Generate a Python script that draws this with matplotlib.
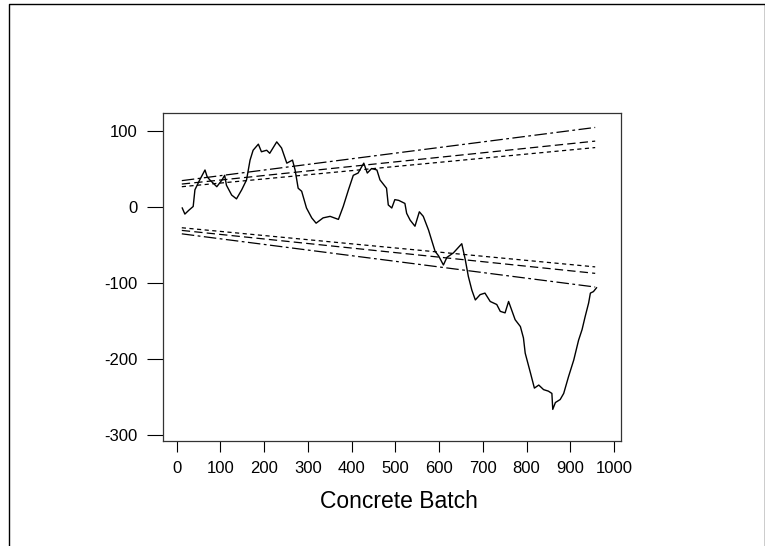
import matplotlib
matplotlib.use("Agg")
import matplotlib.pyplot as plt
from matplotlib.lines import Line2D

plt.rcParams['font.family'] = ['Liberation Sans', 'DejaVu Sans']
plt.rcParams['lines.scale_dashes'] = False
plt.rcParams['axes.unicode_minus'] = False

# cusum path
batch = [13, 19, 28, 38, 42, 53, 65, 70, 76, 92, 104, 110, 114, 126, 137, 149, 160, 168,
         175, 187, 194, 206, 213, 229, 240, 252, 265, 271, 278, 286, 297, 309, 319, 335,
         351, 370, 381, 393, 404, 415, 428, 436, 446, 458, 465, 480, 484, 492, 499, 508,
         515, 522, 526, 534, 545, 555, 564, 576, 584, 591, 599, 610, 618, 633, 652, 660,
         667, 675, 683, 694, 705, 717, 732, 740, 751, 759, 774, 786, 793, 797, 809, 818,
         828, 839, 850, 858, 860, 866, 877, 885, 896, 908, 919, 927, 934, 942, 946, 953, 960]
cusum = [-1, -9, -4, 1, 23, 36, 49, 40, 36, 27, 36, 42, 29, 16, 11, 23, 36, 62,
         75, 83, 73, 75, 71, 86, 78, 58, 62, 49, 25, 21, -1, -14, -21, -14,
         -12, -16, 1, 23, 42, 45, 58, 45, 51, 49, 36, 25, 3, -1, 10, 9,
         7, 5, -8, -17, -25, -6, -12, -30, -45, -58, -64, -76, -66, -60, -48, -69,
         -91, -109, -122, -115, -113, -124, -128, -137, -139, -124, -148, -157, -172, -192, -218, -238,
         -234, -240, -242, -245, -266, -257, -253, -245, -223, -201, -175, -161, -144, -126, -113, -111, -106]

# boundary lines (start/end)
bound_x = [12, 957]
outer = [35, 105]
middle = [30.5, 87]
inner = [27, 78.5]

xticks = list(range(0, 1001, 100))
yticks = [-300, -200, -100, 0, 100]

fig = plt.figure(figsize=(7.65, 5.46), dpi=100)
ax = fig.add_axes([163 / 765, 1 - 441.3 / 546, (621 - 163) / 765, (441.3 - 113) / 546])

ax.plot(batch, cusum, color='black', lw=1.0)

styles = [(outer, (9, 2.5, 2, 2.5)), (middle, (6, 3)), (inner, (3, 2.5))]
for vals, dash in styles:
    ax.plot(bound_x, vals, color='black', lw=0.9, dashes=dash)
    ax.plot(bound_x, [-v for v in vals], color='black', lw=0.9, dashes=dash)

ax.set_xlim(-31, 1016)
ax.set_ylim(-308, 124)
ax.set_xticks(xticks)
ax.set_yticks(yticks)
ax.tick_params(axis='x', length=8, width=0.8, pad=6, labelsize=12)
ax.tick_params(axis='y', length=11.5, width=0.8, pad=7, labelsize=12)
for s in ax.spines.values():
    s.set_linewidth(0.9)
    s.set_color('#333333')

fig.text(399 / 765, 1 - 502 / 546, 'Concrete Batch', ha='center', va='center', fontsize=16.5)

# outer frame (left, top, right)
fig.add_artist(Line2D([8.5 / 765, 8.5 / 765, 764.5 / 765, 764.5 / 765],
                      [0, 1 - 4 / 546, 1 - 4 / 546, 0],
                      transform=fig.transFigure, color='black', lw=1.0))

fig.savefig('out.png', dpi=100)
